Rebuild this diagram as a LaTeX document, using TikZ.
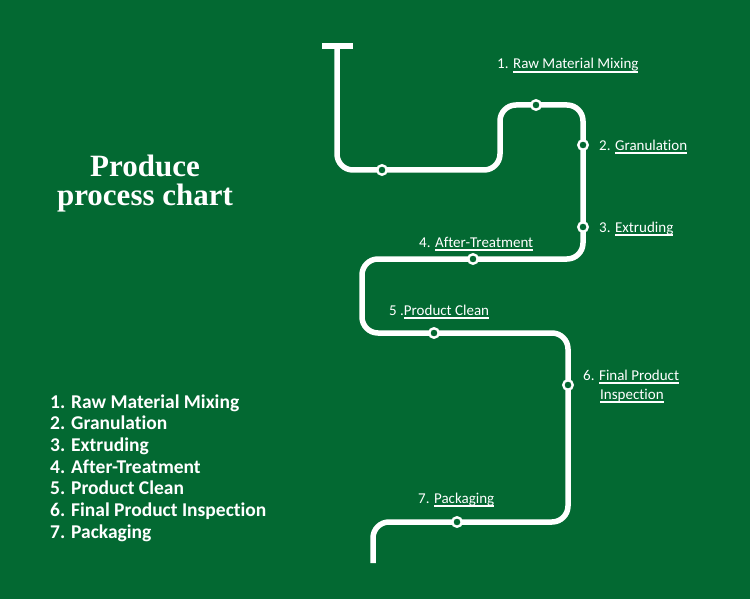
\documentclass[tikz,border=0pt]{standalone}
\usepackage{fontspec}
\setmainfont{Carlito}[Ligatures=NoCommon]
\newfontfamily\titlefont{Liberation Serif}
\definecolor{bg}{RGB}{3,105,50}
\newcommand\myul[1]{\setbox0\hbox{#1}\rlap{\rule[-3.6pt]{\wd0}{1.3pt}}\box0}
\begin{document}
\begin{tikzpicture}[x=1pt,y=-1pt,
  track/.style={draw=white,line width=5.5pt,rounded corners=16pt},
  tbar/.style={draw=white,line width=6pt},
  station/.style={circle,draw=white,fill=bg,line width=2.4pt,minimum size=9.5pt,inner sep=0pt},
  lbl/.style={text=white,font=\fontsize{15}{18}\selectfont,anchor=base west,inner sep=0pt},
  item/.style={text=white,font=\bfseries\fontsize{19.5}{22}\selectfont,anchor=base west,inner sep=0pt},
  ttl/.style={text=white,font=\titlefont\bfseries\fontsize{31}{28.5}\selectfont,align=center,inner sep=0pt},
  ]
\fill[bg] (0,0) rectangle (750,599);
\useasboundingbox (0,0) rectangle (750,599);

% track corner points
\coordinate (c0) at (337,46);
\coordinate (c1) at (337,170);
\coordinate (c2) at (500,170);
\coordinate (c3) at (500,105);
\coordinate (c4) at (583,105);
\coordinate (c5) at (583,259);
\coordinate (c6) at (362,259);
\coordinate (c7) at (362,333);
\coordinate (c8) at (568,333);
\coordinate (c9) at (568,522);
\coordinate (c10) at (373,522);
\coordinate (c11) at (373,563);
\coordinate (ta) at (322,46);
\coordinate (tb) at (353,46);

\draw[track] (c0) -- (c1) -- (c2) -- (c3) -- (c4) -- (c5) -- (c6) -- (c7) -- (c8) -- (c9) -- (c10) -- (c11);
\draw[tbar] (ta) -- (tb);

% stations
\node[station] (s0) at (382,170) {};
\node[station] (s1) at (536,105) {};
\node[station] (s2) at (583,145) {};
\node[station] (s3) at (583,227) {};
\node[station] (s4) at (473,259) {};
\node[station] (s5) at (434,333) {};
\node[station] (s6) at (568,385) {};
\node[station] (s7) at (457,522) {};

% station labels
\node[lbl] (l1) at (497,69) {1. \myul{Raw Material Mixing}};
\node[lbl] (l2) at (599,150) {2. \myul{Granulation}};
\node[lbl] (l3) at (599,232) {3. \myul{Extruding}};
\node[lbl] (l4) at (419,247) {4. \myul{After-Treatment}};
\node[lbl] (l5) at (389,315) {5 .\myul{Product Clean}};
\node[lbl] (l6) at (583,380) {6. \myul{Final Product}};
\node[lbl] (l6b) at (600,399) {\myul{Inspection}};
\node[lbl] (l7) at (418,503) {7. \myul{Packaging}};

% title
\node[ttl] (title) at (145,183.5) {Produce\\process chart};

% list
\node[item] (i1) at (50,408) {1. Raw Material Mixing};
\node[item] (i2) at (50,429.7) {2. Granulation};
\node[item] (i3) at (50,451.3) {3. Extruding};
\node[item] (i4) at (50,473) {4. After-Treatment};
\node[item] (i5) at (50,494.7) {5. Product Clean};
\node[item] (i6) at (50,516.3) {6. Final Product Inspection};
\node[item] (i7) at (50,538) {7. Packaging};
\end{tikzpicture}
\end{document}
